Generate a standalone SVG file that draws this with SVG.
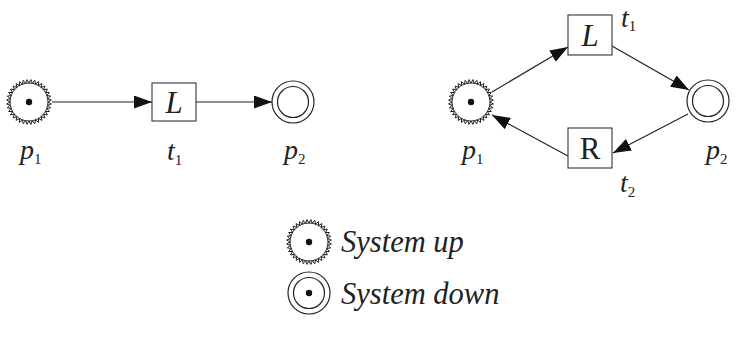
<svg xmlns="http://www.w3.org/2000/svg" width="738" height="339" viewBox="0 0 738 339">
<style>
.ln{stroke:#222;stroke-width:1.2;fill:none}
.box{fill:#fff;stroke:#333;stroke-width:1.1}
.ring{fill:#fff;stroke:#222;stroke-width:1.2}
.zz{fill:none;stroke:#222;stroke-width:1}
.lbl{font-family:"Liberation Serif","Times New Roman",serif;font-style:italic;font-size:28px;fill:#222}
.sub{font-style:normal;font-size:15px}
.big{font-family:"Liberation Serif","Times New Roman",serif;font-size:31px;fill:#222}
.leg{font-family:"Liberation Serif","Times New Roman",serif;font-style:italic;font-size:30.5px;fill:#222}
</style>
<defs>
<marker id="ah" markerUnits="userSpaceOnUse" markerWidth="18" markerHeight="13" refX="18" refY="6.5" orient="auto">
<path d="M0,0 L18,6.5 L0,13 z" fill="#111"/>
</marker>
<polyline id="zq" points="19,0 22.41,1.96 18.71,3.3 21.73,5.82 17.85,6.5 20.39,9.51 16.45,9.5 18.43,12.91 14.55,12.21 15.91,15.91 12.21,14.55 12.91,18.43 9.5,16.45 9.51,20.39 6.5,17.85 5.82,21.73 3.3,18.71 1.96,22.41 0,19"/>
<g id="up">
<circle r="19" fill="#fff" stroke="#222" stroke-width="1"/>
<g class="zz">
<use href="#zq"/>
<use href="#zq" transform="scale(-1,1)"/>
<use href="#zq" transform="scale(1,-1)"/>
<use href="#zq" transform="scale(-1,-1)"/>
</g>
</g>
<g id="down">
<circle r="21" class="ring"/>
<circle r="15.5" class="ring"/>
</g>
</defs>

<g id="connectors">
<line class="ln" x1="52" y1="102" x2="152" y2="102" marker-end="url(#ah)"/>
<line class="ln" x1="196" y1="102" x2="272" y2="102" marker-end="url(#ah)"/>
<line class="ln" x1="492" y1="92" x2="568" y2="47" marker-end="url(#ah)"/>
<line class="ln" x1="612" y1="46" x2="689" y2="90" marker-end="url(#ah)"/>
<line class="ln" x1="688" y1="114" x2="613" y2="153" marker-end="url(#ah)"/>
<line class="ln" x1="568" y1="156" x2="492" y2="115" marker-end="url(#ah)"/>
</g>

<g id="left-p1">
<use href="#up" x="29" y="102"/>
<circle cx="29" cy="102" r="3.2" fill="#111"/>
<text class="lbl" x="20" y="159">p<tspan class="sub" dy="5">1</tspan></text>
</g>
<g id="left-t1">
<rect class="box" x="152" y="83" width="44" height="38"/>
<text class="big" x="174" y="113" text-anchor="middle" font-style="italic">L</text>
<text class="lbl" x="167" y="160">t<tspan class="sub" dy="5">1</tspan></text>
</g>
<g id="left-p2">
<use href="#down" x="293" y="102"/>
<text class="lbl" x="284" y="159">p<tspan class="sub" dy="5">2</tspan></text>
</g>

<g id="right-p1">
<use href="#up" x="471" y="102"/>
<circle cx="471" cy="102" r="3.2" fill="#111"/>
<text class="lbl" x="462" y="159">p<tspan class="sub" dy="5">1</tspan></text>
</g>
<g id="right-t1">
<rect class="box" x="568" y="15" width="44" height="40"/>
<text class="big" x="590" y="46" text-anchor="middle" font-style="italic">L</text>
<text class="lbl" x="621" y="27">t<tspan class="sub" dy="4">1</tspan></text>
</g>
<g id="right-t2">
<rect class="box" x="568" y="128" width="44" height="40"/>
<text class="big" x="590" y="159" text-anchor="middle">R</text>
<text class="lbl" x="620" y="192">t<tspan class="sub" dy="5">2</tspan></text>
</g>
<g id="right-p2">
<use href="#down" x="708" y="101"/>
<text class="lbl" x="706" y="159">p<tspan class="sub" dy="5">2</tspan></text>
</g>

<g id="legend-up">
<use href="#up" x="309" y="242"/>
<circle cx="309" cy="242" r="3.2" fill="#111"/>
<text class="leg" x="341" y="252">System up</text>
</g>
<g id="legend-down">
<use href="#down" x="309" y="293"/>
<circle cx="309" cy="293" r="3.2" fill="#111"/>
<text class="leg" x="341" y="304">System down</text>
</g>
</svg>
